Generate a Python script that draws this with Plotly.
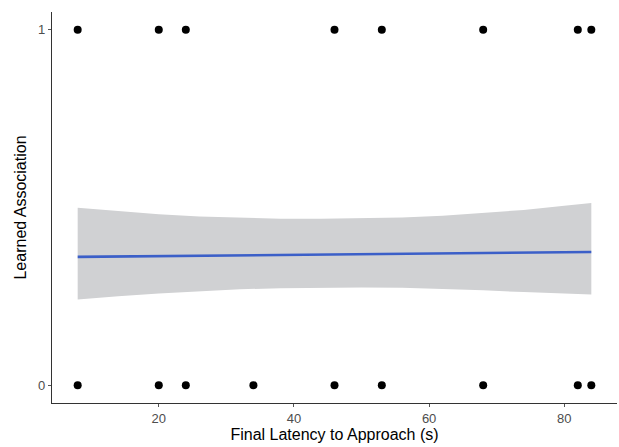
import plotly.graph_objects as go

# Observed data points
x_learned = [8, 20, 24, 46, 53, 68, 82, 84]
y_learned = [1, 1, 1, 1, 1, 1, 1, 1]
x_not = [8, 20, 24, 34, 46, 53, 68, 82, 84]
y_not = [0, 0, 0, 0, 0, 0, 0, 0, 0]

# Fitted line and confidence band
fit_x = [8, 84]
fit_y = [0.361, 0.375]
band_x = [8, 14, 20, 26, 32, 38, 44, 50, 56, 62, 68, 74, 80, 84]
band_upper = [0.499, 0.489, 0.481, 0.475, 0.471, 0.468, 0.468, 0.469, 0.472, 0.477, 0.484, 0.493, 0.505, 0.513]
band_lower = [0.241, 0.250, 0.258, 0.265, 0.270, 0.273, 0.275, 0.275, 0.274, 0.271, 0.267, 0.262, 0.257, 0.255]

x_ticks = [20, 40, 60, 80]
y_ticks = [0, 1]

fig = go.Figure()
fig.add_trace(go.Scatter(
    x=band_x + band_x[::-1], y=band_upper + band_lower[::-1],
    fill="toself", fillcolor="#d0d1d3", line=dict(width=0),
    mode="lines", hoverinfo="skip", showlegend=False))
fig.add_trace(go.Scatter(x=fit_x, y=fit_y, mode="lines",
                         line=dict(color="#3b5fc8", width=2.6), showlegend=False))
fig.add_trace(go.Scatter(x=x_learned + x_not, y=y_learned + y_not, mode="markers",
                         marker=dict(color="black", size=8), showlegend=False))

fig.update_layout(
    template="none",
    width=619, height=447,
    margin=dict(l=52, r=2, t=12, b=44, autoexpand=False),
    paper_bgcolor="white", plot_bgcolor="white",
    font=dict(family="Liberation Sans, Arial, sans-serif", color="black"),
    xaxis=dict(range=[4.2, 87.8], tickvals=x_ticks, showgrid=False, zeroline=False,
               showline=True, linecolor="#333333", linewidth=1.2, automargin=False,
               ticks="outside", ticklen=3, tickcolor="#555555",
               tickfont=dict(size=13, color="#4d4d4d"),
               title=dict(text="Final Latency to Approach (s)", font=dict(size=16, color="black"), standoff=2)),
    yaxis=dict(range=[-0.05, 1.05], tickvals=y_ticks, showgrid=False, zeroline=False,
               showline=True, linecolor="#333333", linewidth=1.2, automargin=False,
               ticks="outside", ticklen=3, tickcolor="#555555",
               tickfont=dict(size=13, color="#4d4d4d"),
               title=dict(text="Learned Association", font=dict(size=16, color="black"), standoff=7)),
)
fig.write_html("out.html", config={"displayModeBar": False},
               post_script="document.body.style.margin='0';document.body.style.padding='0';")
